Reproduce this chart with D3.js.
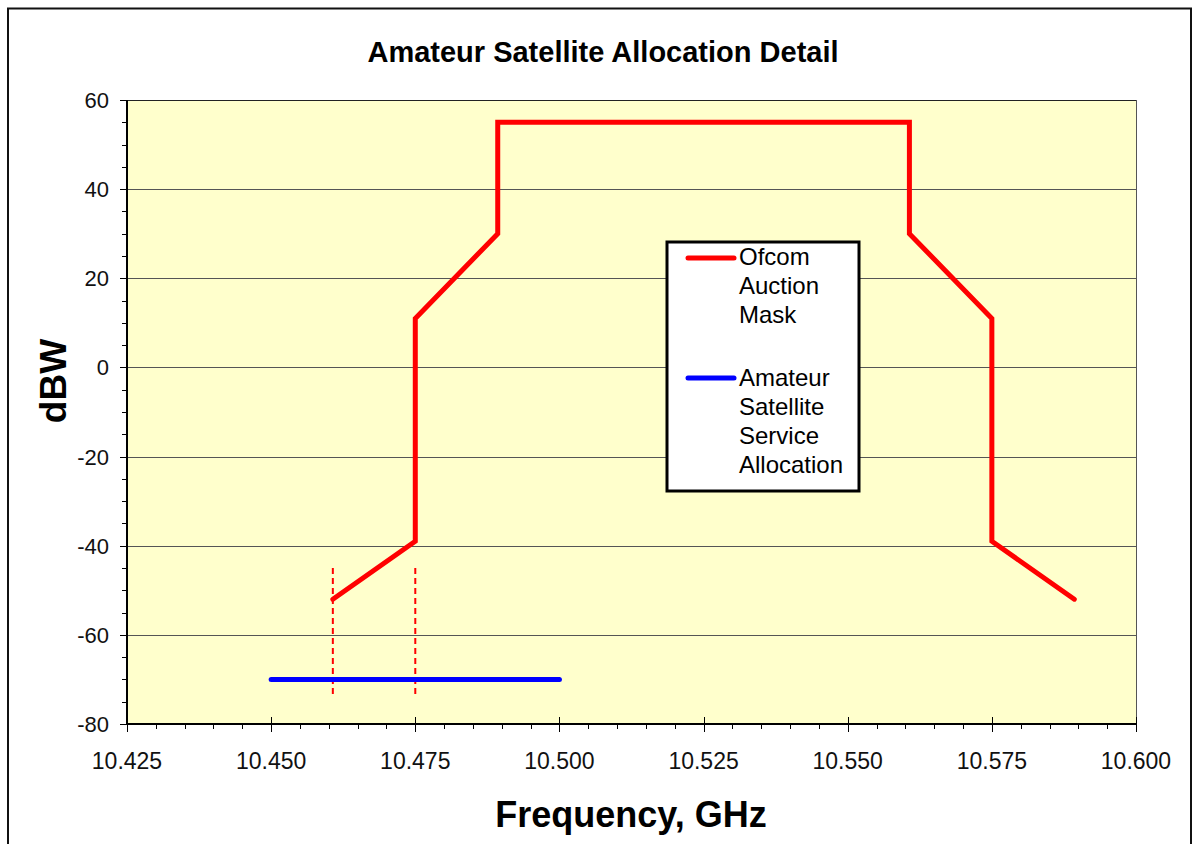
<!DOCTYPE html>
<html><head><meta charset="utf-8">
<script src="https://cdn.jsdelivr.net/npm/d3@7"></script>
<style>body{margin:0;background:#fff;} svg{display:block;font-family:"Liberation Sans",Arial,sans-serif;}</style>
</head><body>
<svg id="chart" width="1198" height="844"></svg>
<script>
const maskFreq = [10.4607, 10.475, 10.475, 10.4893, 10.4893, 10.5607, 10.5607, 10.575, 10.575, 10.5893];
const maskDbw  = [-52, -39, 11, 30, 55, 55, 30, 11, -39, -52];
const allocFreq = [10.45, 10.5];
const allocDbw  = [-70, -70];
const markerFreq = [10.4607, 10.475];
const markerRange = [-45, -74];
const xTicks = [10.425, 10.45, 10.475, 10.5, 10.525, 10.55, 10.575, 10.6];
const yTicks = [60, 40, 20, 0, -20, -40, -60, -80];
const legendLabels = [["Ofcom","Auction","Mask"],["Amateur","Satellite","Service","Allocation"]];

const svg = d3.select("#chart");
const L = 127, R = 1136, T = 100, B = 724;
const x = d3.scaleLinear().domain([10.425, 10.6]).range([L, R]);
const y = d3.scaleLinear().domain([-80, 60]).range([B, T]);

// outer border
svg.append("rect").attr("x",8).attr("y",8.5).attr("width",1183).attr("height",850)
  .attr("fill","#fff").attr("stroke","#111").attr("stroke-width",2);

// plot area
svg.append("rect").attr("x",L).attr("y",T).attr("width",R-L).attr("height",B-T).attr("fill","#FFFFCC");

// gridlines
svg.append("g").selectAll("line").data(yTicks.filter(d=>d!==-80)).join("line")
  .attr("x1",L).attr("x2",R).attr("y1",d=>Math.round(y(d))+0.5).attr("y2",d=>Math.round(y(d))+0.5)
  .attr("stroke",d=>d===60?"#222":"#555").attr("stroke-width",1);
svg.append("line").attr("x1",R+0.5).attr("x2",R+0.5).attr("y1",T).attr("y2",B).attr("stroke","#555");

// y axis
const yMinor = d3.range(-80, 60.1, 5);
svg.append("g").selectAll("line").data(yMinor).join("line")
  .attr("x1",d=>d%20===0?L-7:L-5).attr("x2",L).attr("y1",d=>Math.round(y(d))+0.5).attr("y2",d=>Math.round(y(d))+0.5)
  .attr("stroke","#000");
svg.append("line").attr("x1",L).attr("x2",L).attr("y1",T).attr("y2",B+1).attr("stroke","#000").attr("stroke-width",2);
svg.append("g").selectAll("text").data(yTicks).join("text")
  .attr("x",109).attr("y",d=>y(d)+8).attr("text-anchor","end").attr("font-size",22).attr("fill","#111")
  .text(d=>d);

// x axis
const xMinor = d3.range(0, 36).map(i => 10.425 + i*0.005);
svg.append("g").selectAll("line").data(xMinor).join("line")
  .attr("x1",d=>Math.round(x(d))+0.5).attr("x2",d=>Math.round(x(d))+0.5)
  .attr("y1",(d,i)=>i%5===0?B-7:B).attr("y2",(d,i)=>i%5===0?B+8:B+5)
  .attr("stroke","#000");
svg.append("line").attr("x1",L-1).attr("x2",R+1).attr("y1",B).attr("y2",B).attr("stroke","#000").attr("stroke-width",2);
svg.append("g").selectAll("text").data(xTicks).join("text")
  .attr("x",d=>x(d)).attr("y",769).attr("text-anchor","middle").attr("font-size",23).attr("fill","#111")
  .text(d=>d3.format(".3f")(d));

// marker dashed lines
svg.append("g").selectAll("line").data(markerFreq).join("line")
  .attr("x1",d=>x(d)).attr("x2",d=>x(d)).attr("y1",y(markerRange[0])).attr("y2",y(markerRange[1]))
  .attr("stroke","#FF0000").attr("stroke-width",2).attr("stroke-dasharray","6,4");

// series
const line = d3.line().x(d=>x(d[0])).y(d=>y(d[1]));
svg.append("path").datum(allocFreq.map((f,i)=>[f,allocDbw[i]])).attr("d",line)
  .attr("fill","none").attr("stroke","#0000FF").attr("stroke-width",5).attr("stroke-linecap","round");
svg.append("path").datum(maskFreq.map((f,i)=>[f,maskDbw[i]])).attr("d",line)
  .attr("fill","none").attr("stroke","#FF0000").attr("stroke-width",5).attr("stroke-linecap","round").attr("stroke-linejoin","miter");

// title and axis titles
svg.append("text").attr("x",603).attr("y",62).attr("text-anchor","middle").attr("font-size",29).attr("font-weight","bold")
  .text("Amateur Satellite Allocation Detail");
svg.append("text").attr("transform","translate(66,381) rotate(-90)").attr("text-anchor","middle").attr("font-size",37).attr("font-weight","bold")
  .text("dBW");
svg.append("text").attr("x",631).attr("y",827).attr("text-anchor","middle").attr("font-size",36).attr("font-weight","bold")
  .text("Frequency, GHz");

// legend
svg.append("rect").attr("x",667).attr("y",242).attr("width",192).attr("height",249)
  .attr("fill","#fff").attr("stroke","#000").attr("stroke-width",3);
const legColors = ["#FF0000","#0000FF"];
const legY = [258, 378];
const legBase = [265, 386];
legendLabels.forEach((lines, k) => {
  svg.append("line").attr("x1",688).attr("x2",734).attr("y1",legY[k]).attr("y2",legY[k])
    .attr("stroke",legColors[k]).attr("stroke-width",5).attr("stroke-linecap","round");
  lines.forEach((t, j) => {
    svg.append("text").attr("x",739).attr("y",legBase[k]+j*29).attr("font-size",24).attr("fill","#000").text(t);
  });
});
</script>
</body></html>
